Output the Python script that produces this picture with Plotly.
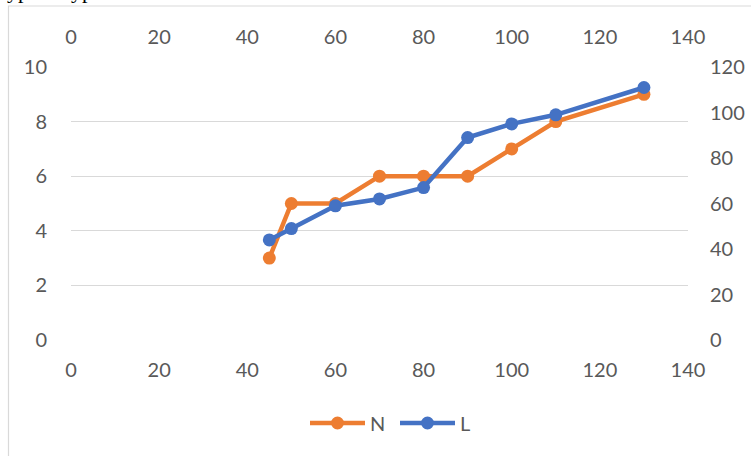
import plotly.graph_objects as go

# Series data (shared x values)
x_vals = [45, 50, 60, 70, 80, 90, 100, 110, 130]
n_vals = [3, 5, 5, 6, 6, 6, 7, 8, 9]          # left axis
l_vals = [44, 49, 59, 62, 67, 89, 95, 99, 111]  # right axis

x_ticks = [0, 20, 40, 60, 80, 100, 120, 140]
y_left_ticks = [0, 2, 4, 6, 8, 10]
y_right_ticks = [0, 20, 40, 60, 80, 100, 120]

ORANGE = "#ED7D31"
BLUE = "#4472C4"
TEXT = "#595959"
GRID = "#D9D9D9"
FONT = "Lato"

W, H = 751, 456
ML, MR, MT, MB = 71, 63, 67, 116
PW, PH = W - ML - MR, H - MT - MB


def px_x(px):
    return (px - ML) / PW


def px_y(py):
    return (H - MB - py) / PH


fig = go.Figure()
fig.add_trace(go.Scatter(
    x=x_vals, y=n_vals, name="N", mode="lines+markers",
    line=dict(color=ORANGE, width=4.5), marker=dict(color=ORANGE, size=13),
    xaxis="x", yaxis="y", showlegend=False,
))
fig.add_trace(go.Scatter(
    x=x_vals, y=l_vals, name="L", mode="lines+markers",
    line=dict(color=BLUE, width=4.5), marker=dict(color=BLUE, size=13),
    xaxis="x2", yaxis="y2", showlegend=False,
))

tickfont = dict(family=FONT, size=20, color=TEXT)
common_x = dict(range=[0, 140], tickvals=x_ticks, showgrid=False, zeroline=False,
                showline=False, ticks="outside",
                tickcolor="rgba(0,0,0,0)", tickfont=tickfont, fixedrange=True,
                automargin=False)

shapes = [
    # chart frame
    dict(type="rect", xref="paper", yref="paper",
         x0=px_x(8.5), x1=px_x(W + 20), y0=px_y(H + 20), y1=px_y(6),
         line=dict(color=GRID, width=1.2), fillcolor="rgba(0,0,0,0)", layer="below"),
]

# legend: line + marker + label for each series
annotations = []
legend_items = [("N", ORANGE, 310), ("L", BLUE, 400)]
ly = 423
for name, col, x0 in legend_items:
    shapes.append(dict(type="line", xref="paper", yref="paper",
                       x0=px_x(x0), x1=px_x(x0 + 55), y0=px_y(ly), y1=px_y(ly),
                       line=dict(color=col, width=4.5)))
    shapes.append(dict(type="circle", xref="paper", yref="paper",
                       xsizemode="pixel", ysizemode="pixel",
                       xanchor=px_x(x0 + 27.5), yanchor=px_y(ly),
                       x0=-6.5, x1=6.5, y0=-6.5, y1=6.5,
                       fillcolor=col, line=dict(color=col, width=0)))
    annotations.append(dict(xref="paper", yref="paper", x=px_x(x0 + 58), y=px_y(ly),
                            xanchor="left", yanchor="middle", text=name, showarrow=False,
                            font=dict(family=FONT, size=20, color=TEXT)))

# text line above the chart frame
for tx in (6, 70):
    annotations.append(dict(xref="paper", yref="paper", x=px_x(tx), y=px_y(4),
                            xanchor="left", yanchor="bottom", text="yp", showarrow=False,
                            borderpad=0,
                            font=dict(family="Liberation Serif", size=22, color="#000000")))

fig.update_layout(
    width=W, height=H,
    margin=dict(l=ML, r=MR, t=MT, b=MB, pad=0, autoexpand=False),
    paper_bgcolor="white", plot_bgcolor="white",
    xaxis=dict(**common_x, side="bottom", anchor="y", ticklen=12),
    xaxis2=dict(**common_x, side="top", overlaying="x", anchor="y2", ticklen=14),
    yaxis=dict(range=[0, 10], tickvals=y_left_ticks, showgrid=True, gridcolor=GRID,
               gridwidth=1.2, zeroline=False, showline=False, ticks="outside", ticklen=19,
               tickcolor="rgba(0,0,0,0)", tickfont=tickfont, fixedrange=True,
               automargin=False),
    yaxis2=dict(range=[0, 120], tickvals=y_right_ticks, showgrid=False, zeroline=False,
                showline=False, side="right", overlaying="y", anchor="x2",
                ticks="outside", ticklen=17, tickcolor="rgba(0,0,0,0)",
                tickfont=tickfont, fixedrange=True, automargin=False),
    shapes=shapes,
    annotations=annotations,
    showlegend=False,
)

fig.write_html("out.html")
